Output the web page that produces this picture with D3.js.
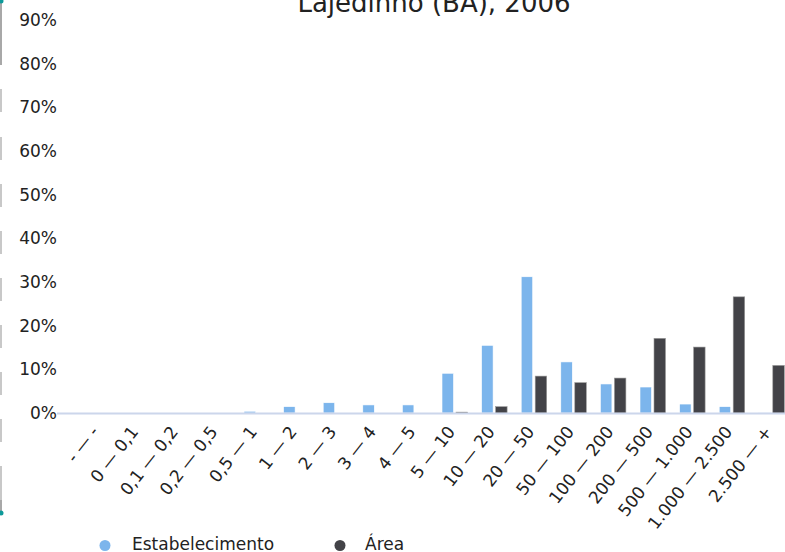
<!DOCTYPE html>
<html><head><meta charset="utf-8">
<script src="https://cdn.jsdelivr.net/npm/d3@7"></script>
<style>
html,body{margin:0;padding:0;background:#fff;overflow:hidden;}
text{font-family:"DejaVu Sans",sans-serif;}
</style></head>
<body>
<svg id="chart" width="785" height="552"></svg>
<script>
const title = "Lajedinho (BA), 2006";
const categories = ["- — -","0 — 0,1","0,1 — 0,2","0,2 — 0,5","0,5 — 1","1 — 2","2 — 3","3 — 4","4 — 5","5 — 10","10 — 20","20 — 50","50 — 100","100 — 200","200 — 500","500 — 1.000","1.000 — 2.500","2.500 — +"];
const estabelecimento = [0,0,0,0,0.4,1.45,2.35,1.85,1.85,9.1,15.5,31.2,11.7,6.65,5.95,2.05,1.45,0.15];
const area = [0,0,0,0,0,0,0,0,0,0.2,1.45,8.45,6.95,8.0,17.1,15.1,26.6,10.9];
const yTicks = [0,10,20,30,40,50,60,70,80,90];
const seriesNames = ["Estabelecimento","Área"];
const colors = ["#7cb5ec","#434348"];

const svg = d3.select("#chart");

// left edge decoration
const deco = svg.append("g");
deco.append("rect").attr("x",0).attr("y",0).attr("width",2).attr("height",65).attr("fill","#a8a8a8");
[89,137,184,231,278,325,372,419,466].forEach(y=>{
  deco.append("rect").attr("x",0).attr("y",y).attr("width",2).attr("height",y===466?34:23).attr("fill","#c8c8c8");
});
deco.append("rect").attr("x",0).attr("y",500).attr("width",2).attr("height",13).attr("fill","#a8a8a8");
deco.append("circle").attr("cx",1).attr("cy",1).attr("r",2.5).attr("fill","#0e9a9a");
deco.append("circle").attr("cx",1).attr("cy",513).attr("r",2.5).attr("fill","#0e9a9a");

const x = d3.scaleBand().domain(categories).range([78.8, 791.6]);
const y = d3.scaleLinear().domain([0,90]).range([413,20]);

// title
svg.append("text").attr("x",434).attr("y",12).attr("text-anchor","middle")
  .attr("font-size",26).attr("fill","#222").text(title);

// y axis labels
const yAxis = d3.axisLeft(y).tickValues(yTicks).tickFormat(d=>d+"%").tickSize(0).tickPadding(0);
const yg = svg.append("g").attr("transform","translate(57,0)").call(yAxis);
yg.select(".domain").remove();
yg.selectAll("text").attr("font-size",17).attr("fill","#222").attr("font-family","DejaVu Sans");

// bars
const bw = 11.5;
const offsets = [-13, 1];
[estabelecimento, area].forEach((vals, si)=>{
  svg.append("g").selectAll("rect").data(vals).join("rect")
    .attr("x",(d,i)=>x(categories[i]) + x.bandwidth()/2 + offsets[si])
    .attr("y",d=>y(d))
    .attr("width",bw)
    .attr("height",d=>Math.max(0,y(0)-y(d)))
    .attr("fill",colors[si])
    .attr("stroke", si===0 ? "#ffffff" : "#9a9a9a")
    .attr("stroke-width",0.6);
});

// baseline
svg.append("line").attr("x1",57).attr("x2",785).attr("y1",413.5).attr("y2",413.5)
  .attr("stroke","#ccd6eb").attr("stroke-width",2);

// x axis labels
const xAxis = d3.axisBottom(x).tickSize(0).tickPadding(0);
const xg = svg.append("g").attr("transform","translate(0,413)").call(xAxis);
xg.select(".domain").remove();
xg.selectAll(".tick text")
  .attr("font-size",17).attr("fill","#222").attr("font-family","DejaVu Sans")
  .attr("text-anchor","end").attr("dy",null).attr("y",0)
  .attr("transform","translate(1,19) rotate(-52)");

// legend
const legend = [{x:105,tx:132},{x:340,tx:365}];
seriesNames.forEach((n,i)=>{
  svg.append("circle").attr("cx",legend[i].x).attr("cy",545.5).attr("r",5.5).attr("fill",colors[i]);
  svg.append("text").attr("x",legend[i].tx).attr("y",550).attr("font-size",17).attr("fill","#222").text(n);
});
</script>
</body></html>
